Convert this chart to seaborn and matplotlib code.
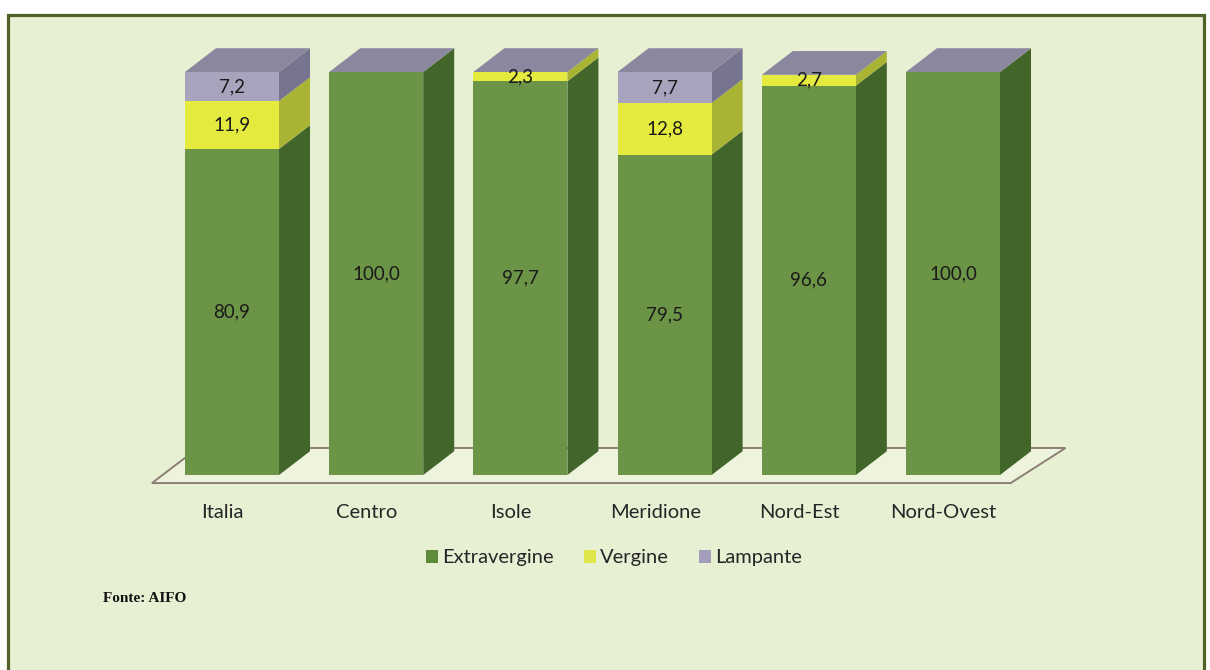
import numpy as np
import pandas as pd
import seaborn as sns
import matplotlib.pyplot as plt
from matplotlib.patches import Polygon, Rectangle, Patch

# Olive-oil quality shares by area (%)
regions = ["Italia", "Centro", "Isole", "Meridione", "Nord-Est", "Nord-Ovest"]
extravergine = [80.9, 100.0, 97.7, 79.5, 96.6, 100.0]
vergine = [11.9, 0.0, 2.3, 12.8, 2.7, 0.0]
lampante = [7.2, 0.0, 0.0, 7.7, 0.0, 0.0]
series_names = ["Extravergine", "Vergine", "Lampante"]
source_note = "Fonte: AIFO"

# face colours: front, side, top
front_cols = ["#6b9446", "#e4eb3e", "#a8a4bd"]
side_cols = ["#42652a", "#a9b435", "#77748f"]
top_col = "#8a879f"
legend_cols = ["#5f8a3c", "#dfe64a", "#a39dbb"]
bg = "#e8f0d4"

sns.set_theme(style="white")
plt.rcParams["font.family"] = ["Lato", "DejaVu Sans"]

W, H = 1210, 670
fig = plt.figure(figsize=(W / 100, H / 100), dpi=100, facecolor="white")

# framed panel
frame = Rectangle((7.5 / W, -0.1), (1203.5 - 7.5) / W, 1.1 - 14.5 / H,
                  transform=fig.transFigure, facecolor=bg, edgecolor="#4f6228",
                  linewidth=2.3, zorder=-5)
fig.add_artist(frame)

ax = fig.add_axes([0, 0, 1, 1])
ax.set_facecolor("none")

df = pd.DataFrame({"region": regions, "Extravergine": extravergine,
                   "Vergine": vergine, "Lampante": lampante})
vals = df[series_names].to_numpy()
cum = np.cumsum(vals, axis=1)
bottoms = cum - vals

bar_w = 0.652
depth_x, depth_y = 0.215, 5.9

# 3D floor under the bars
n = len(regions)
floor = Polygon([(-0.555, -2.0), (n - 1 + 0.40, -2.0), (n - 1 + 0.78, 6.7), (-0.236, 6.7)],
                closed=True, facecolor="#edf3dd", edgecolor="#8b7f76", linewidth=1.4, zorder=1)
ax.add_patch(floor)

# front faces: cumulative totals drawn from the top layer down
for k in range(len(series_names) - 1, -1, -1):
    sns.barplot(x=df["region"], y=cum[:, k], color=front_cols[k], width=bar_w,
                saturation=1, errorbar=None, linewidth=0, ax=ax, zorder=3)

# side and top faces
for i in range(n):
    xl, xr = i - bar_w / 2, i + bar_w / 2
    for k in range(len(series_names)):
        y0, y1 = bottoms[i, k], cum[i, k]
        if y1 - y0 <= 0:
            continue
        ax.add_patch(Polygon([(xr, y0), (xr + depth_x, y0 + depth_y),
                              (xr + depth_x, y1 + depth_y), (xr, y1)],
                             closed=True, facecolor=side_cols[k], edgecolor="none", zorder=2))
    top = cum[i, -1]
    ax.add_patch(Polygon([(xl, top), (xl + depth_x, top + depth_y),
                          (xr + depth_x, top + depth_y), (xr, top)],
                         closed=True, facecolor=top_col, edgecolor="none", zorder=4))

# value labels
for i in range(n):
    for k in range(len(series_names)):
        v = vals[i, k]
        if v <= 0:
            continue
        ax.text(i, bottoms[i, k] + v / 2, f"{v:.1f}".replace(".", ","),
                ha="center", va="center", fontsize=13.5, color="#1a1a1a", zorder=6)

# category labels, centred under the front of the floor
for i, name in enumerate(regions):
    ax.text(i - 0.065, -9.2, name, ha="center", va="center", fontsize=14.5, color="#262626")

# map data units to the figure
ax.set_xlim((0 - 232) / 144.2, (W - 232) / 144.2)
ax.set_ylim((475 - H) / 4.03, 475 / 4.03)
ax.set_axis_off()

handles = [Patch(facecolor=c, edgecolor="none") for c in legend_cols]
fig.legend(handles, series_names, loc="center", bbox_to_anchor=(614 / W, 1 - 558 / H),
           ncol=3, frameon=False, fontsize=14.5, handlelength=0.6, handleheight=0.6,
           handletextpad=0.2, columnspacing=1.5, labelcolor="#262626")

fig.text(103 / W, 1 - 598 / H, source_note, ha="left", va="center",
         fontsize=11, fontweight="bold", family=["Liberation Serif", "DejaVu Serif"],
         color="#111111")

fig.savefig("out.png", dpi=100, facecolor=fig.get_facecolor())
